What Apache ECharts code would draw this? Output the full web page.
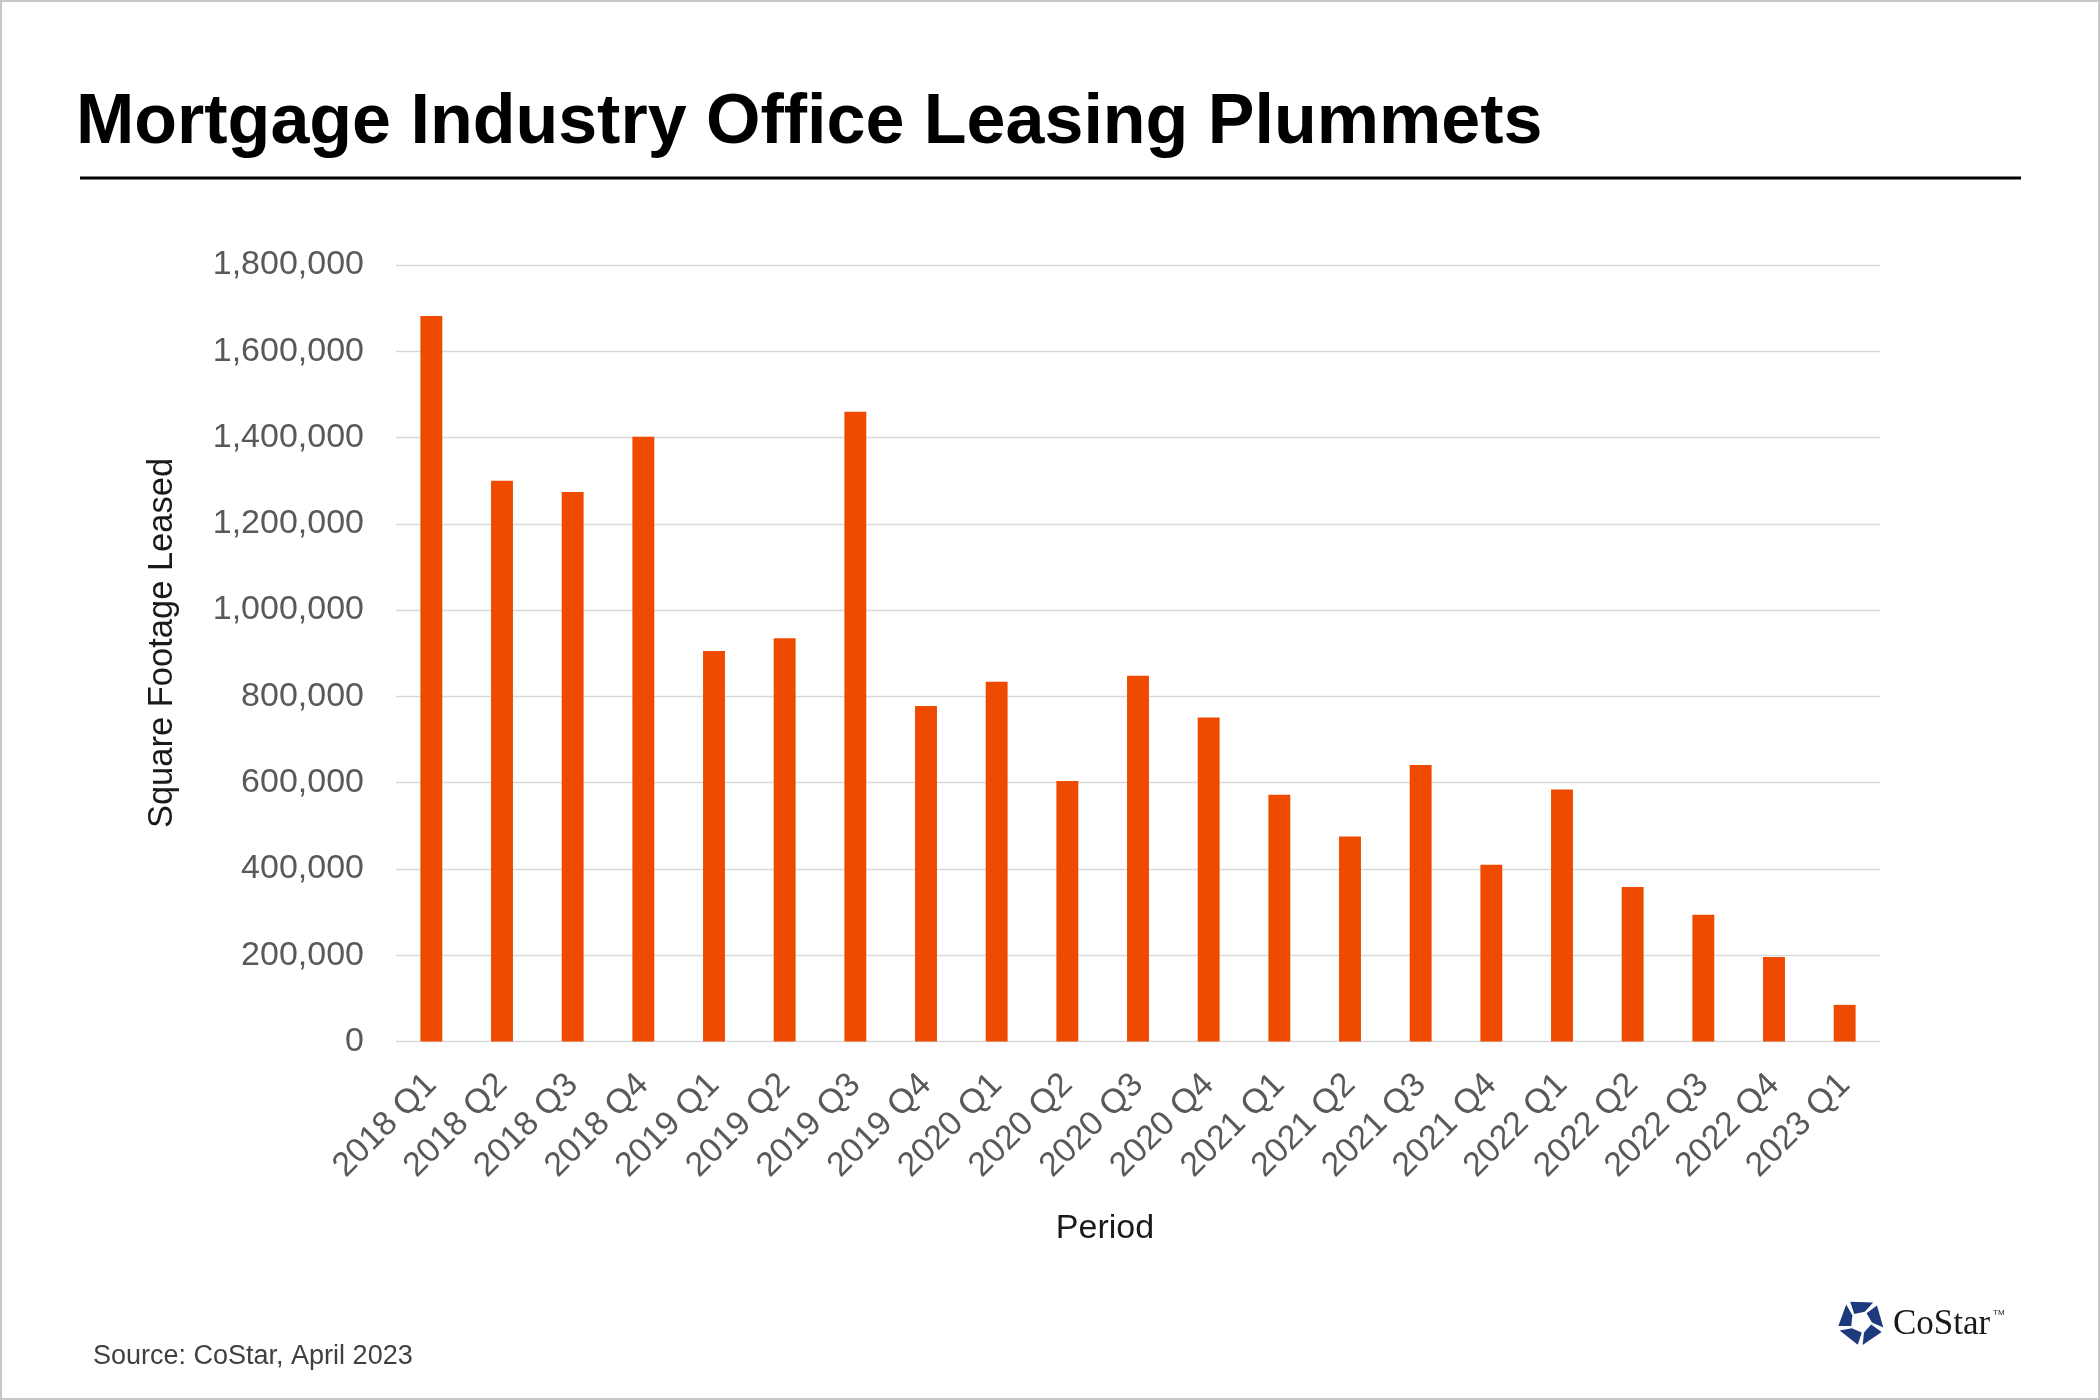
<!DOCTYPE html>
<html>
<head>
<meta charset="utf-8">
<script src="https://cdn.jsdelivr.net/npm/echarts@6/dist/echarts.min.js"></script>
<style>
html,body{margin:0;padding:0;background:#fff;}
#chart{width:2100px;height:1400px;}
</style>
</head>
<body>
<div id="chart"></div>
<script>
const categories = ['2018 Q1','2018 Q2','2018 Q3','2018 Q4','2019 Q1','2019 Q2','2019 Q3','2019 Q4',
  '2020 Q1','2020 Q2','2020 Q3','2020 Q4','2021 Q1','2021 Q2','2021 Q3','2021 Q4',
  '2022 Q1','2022 Q2','2022 Q3','2022 Q4','2023 Q1'];
const squareFootageLeased = [1682000,1300000,1274000,1402000,905000,935000,1460000,778000,
  834000,604000,848000,751000,572000,475000,641000,410000,
  584000,358000,294000,196000,85000];
const yTicks = { min: 0, max: 1800000, interval: 200000 };

const chart = echarts.init(document.getElementById('chart'), null, {renderer:'canvas'});
const FONT = 'Arial, "Liberation Sans", Helvetica, sans-serif';

// CoStar logo pieces (pinwheel pentagon)
function logoPieces(cx, cy, R, r) {
  const pieces = [];
  for (let i = 0; i < 5; i++) {
    const n = -90 + 72 * i;
    const rad = d => d * Math.PI / 180;
    const p = (rr, a) => [cx + rr * Math.cos(rad(a)), cy + rr * Math.sin(rad(a))];
    pieces.push({
      type: 'polygon',
      shape: { points: [p(R, n - 28), p(R, n + 32), p(r, n + 20), p(r * 0.95, n - 40)] },
      style: { fill: '#1d3a7c' }
    });
  }
  return pieces;
}

const option = {
  backgroundColor: '#ffffff',
  animation: false,
  grid: { left: 396, right: 220, top: 265, bottom: 358.5, containLabel: false },
  xAxis: {
    type: 'category',
    data: categories,
    axisLine: { show: false },
    axisTick: { show: false },
    axisLabel: {
      interval: 0, rotate: 45, margin: 38,
      fontFamily: FONT, fontSize: 34, color: '#595959'
    },
    splitLine: { show: false }
  },
  yAxis: {
    type: 'value',
    min: yTicks.min, max: yTicks.max, interval: yTicks.interval,
    axisLine: { show: false },
    axisTick: { show: false },
    axisLabel: {
      margin: 32, fontFamily: FONT, fontSize: 34, color: '#595959',
      formatter: v => v.toLocaleString('en-US')
    },
    splitLine: { lineStyle: { color: '#d9d9d9', width: 1.3 } }
  },
  series: [{
    type: 'bar',
    data: squareFootageLeased,
    barWidth: '31%',
    itemStyle: { color: '#ee4b00' }
  }],
  graphic: [
    { type: 'rect', shape: { x: 1, y: 1, width: 2098, height: 1398 },
      style: { fill: 'none', stroke: '#c8c8c8', lineWidth: 2 }, z: 100 },
    { type: 'text', x: 76, y: 124,
      style: { text: 'Mortgage Industry Office Leasing Plummets', font: 'bold 70px ' + FONT,
        fill: '#000', textAlign: 'left', textVerticalAlign: 'middle' } },
    { type: 'rect', shape: { x: 80, y: 176.5, width: 1941, height: 3 }, style: { fill: '#000' } },
    { type: 'text', x: 162, y: 643, rotation: Math.PI / 2,
      style: { text: 'Square Footage Leased', font: '34.5px ' + FONT, fill: '#1a1a1a',
        textAlign: 'center', textVerticalAlign: 'middle' } },
    { type: 'text', x: 1105, y: 1229,
      style: { text: 'Period', font: '34px ' + FONT, fill: '#1a1a1a',
        textAlign: 'center', textVerticalAlign: 'middle' } },
    { type: 'text', x: 93, y: 1357,
      style: { text: 'Source: CoStar, April 2023', font: '27px ' + FONT, fill: '#404040',
        textAlign: 'left', textVerticalAlign: 'middle' } },
    ...logoPieces(1861, 1322, 23, 11),
    { type: 'text', x: 1893, y: 1325,
      style: { text: 'CoStar', font: '35px "Liberation Serif", "Times New Roman", serif', fill: '#1a1a1a',
        textAlign: 'left', textVerticalAlign: 'middle' } },
    { type: 'text', x: 1993, y: 1313,
      style: { text: 'TM', font: '8px ' + FONT, fill: '#1a1a1a',
        textAlign: 'left', textVerticalAlign: 'middle' } }
  ]
};
chart.setOption(option);
</script>
</body>
</html>
